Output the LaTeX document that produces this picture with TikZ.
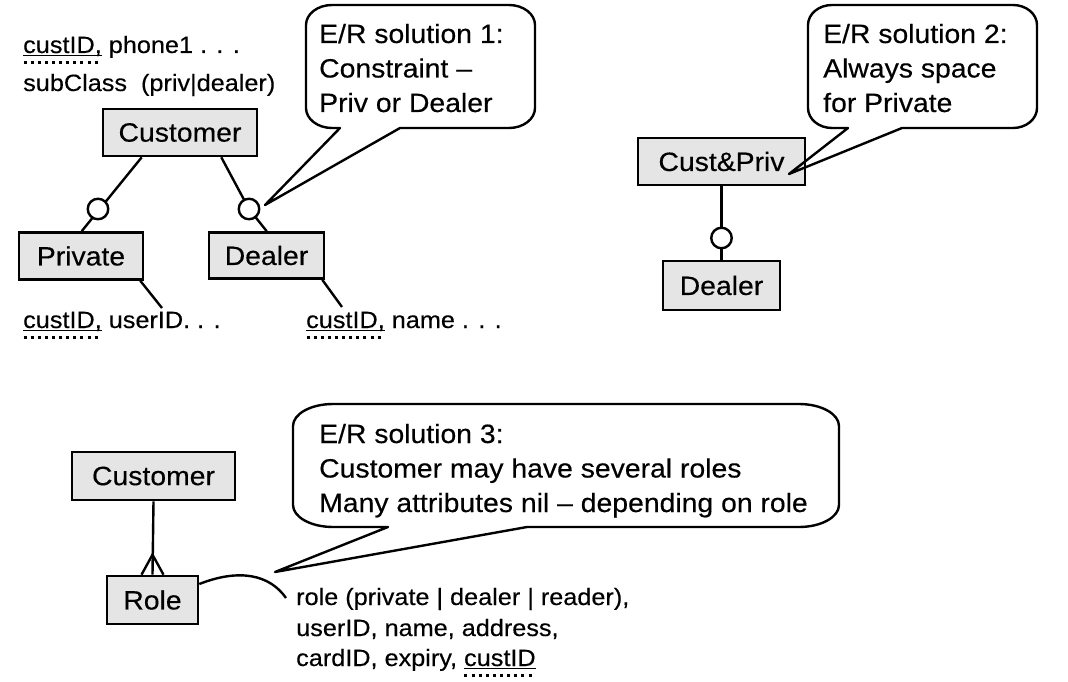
\documentclass[tikz,border=0pt]{standalone}
\usepackage{fontspec}
\newfontfamily\hv{Liberation Sans}[FakeStretch=1.07,FakeBold=0.3]
\newcommand\bigtxt{\hv\fontsize{26.5}{34}\selectfont}
\newcommand\smtxt{\hv\fontsize{23.6}{31}\selectfont}
\definecolor{boxgray}{gray}{0.9}
\newcommand\keyul[1]{\setbox0=\hbox{#1}%
 \rlap{\raisebox{-3pt}{\rule{\wd0}{0.9pt}}}%
 \rlap{\raisebox{-10.8pt}{\hbox to \wd0{\xleaders\hbox{\rule{3pt}{2.8pt}\hspace{3.8pt}}\hfill}}}%
 \box0\relax}
\newcommand\bubble[9]{%
 \draw[bubbleline] ({#1+#5},#2) -- ({#3-#5},#2)
   arc[start angle=-90,end angle=0,x radius=#5,y radius=#6]
   -- (#3,{#4-#6}) arc[start angle=0,end angle=90,x radius=#5,y radius=#6]
   -- (#8,#4) -- (#9) -- (#7,#4) -- ({#1+#5},#4)
   arc[start angle=90,end angle=180,x radius=#5,y radius=#6]
   -- (#1,{#2+#6}) arc[start angle=180,end angle=270,x radius=#5,y radius=#6] -- cycle;}
\tikzset{
  ent/.style={draw, line width=2.6pt, fill=boxgray, inner sep=0pt, font=\bigtxt},
  conn/.style={line width=2.4pt},
  circ/.style={circle, draw, fill=white, line width=2.4pt, minimum size=20.5pt, inner sep=0pt},
  bubbleline/.style={line width=2.4pt, line join=round},
  bgt/.style={anchor=base west, inner sep=0pt, font=\bigtxt},
  smt/.style={anchor=base west, inner sep=0pt, font=\smtxt},
}
\begin{document}
\begin{tikzpicture}[x=1pt,y=-1pt]
\fill[white] (0,0) rectangle (1068,682);
\useasboundingbox (0,0) rectangle (1068,682);

% ---------- solution 1 ----------
\node[ent, minimum width=154pt, minimum height=47pt] (cust1) at (180,132.5) {Customer};
\node[ent, minimum width=124pt, minimum height=47pt] (priv1) at (81,256) {Private};
\node[ent, minimum width=115pt, minimum height=46pt] (deal1) at (266.5,255.5) {Dealer};

\node[smt] (t1) at (23,53) {\keyul{custID,} phone1 . . .};
\node[smt] (t2) at (23,91) {subClass\hspace{14pt}(priv|dealer)};
\node[smt] (t3) at (23,328) {\keyul{custID,} userID. . .};
\node[smt] (t4) at (306,328) {\keyul{custID,} name . . .};

\coordinate (c1) at (98,209);
\coordinate (c2) at (249,209);
\draw[conn] ([xshift=40pt]cust1.south west) -- ([xshift=64pt]priv1.north west);
\draw[conn] ([xshift=-37pt]cust1.south east) -- (c2) -- ([xshift=59pt]deal1.north west);
\node[circ] (circ1) at (c1) {};
\node[circ] (circ2) at (c2) {};

\coordinate (p1) at (162,308);
\coordinate (p2) at (342,307);
\draw[conn] ([xshift=-4pt]priv1.south east) -- (p1);
\draw[conn] ([xshift=-3pt]deal1.south east) -- (p2);

\coordinate (tip1) at (265,205);
\bubble{306}{5}{535}{128}{26}{20}{340}{400}{tip1}
\node[bgt] (b1a) at (319,43) {E/R solution 1:};
\node[bgt] (b1b) at (319,77.5) {Constraint –};
\node[bgt] (b1c) at (319,112) {Priv or Dealer};

% ---------- solution 2 ----------
\node[ent, minimum width=167pt, minimum height=47pt] (custpriv) at (721.5,161.5) {Cust\&Priv};
\node[ent, minimum width=117pt, minimum height=49pt] (deal2) at (721.5,285.5) {Dealer};
\draw[conn] (custpriv.south) -- (deal2.north);
\node[circ] (circ3) at (721.5,238) {};

\coordinate (tip2) at (789,174);
\bubble{808}{5}{1037}{128}{24}{20}{848}{902}{tip2}
\node[bgt] (b2a) at (823,43) {E/R solution 2:};
\node[bgt] (b2b) at (823,77.5) {Always space};
\node[bgt] (b2c) at (823,112) {for Private};

% ---------- solution 3 ----------
\node[ent, minimum width=163pt, minimum height=48pt] (cust3) at (153.5,476) {Customer};
\node[ent, minimum width=91pt, minimum height=48pt] (role3) at (152.5,600) {Role};
\draw[conn] (cust3.south) -- (role3.north);
\draw[conn] ([xshift=-11pt]role3.north) -- ([yshift=20pt]role3.north) -- ([xshift=11pt]role3.north);

\coordinate (a3) at (286,598);
\draw[conn] ([yshift=16pt]role3.east) .. controls (240,568) and (270,575) .. (a3);

\node[smt] (r1) at (296,605) {role (private | dealer | reader),};
\node[smt] (r2) at (296,636) {userID, name, address,};
\node[smt] (r3) at (296,666) {cardID, expiry, \keyul{custID}};

\coordinate (tip3) at (275,572);
\bubble{293}{404}{839}{527}{40}{22}{388}{527}{tip3}
\node[bgt] (b3a) at (319,443) {E/R solution 3:};
\node[bgt] (b3b) at (319,477.5) {Customer may have several roles};
\node[bgt] (b3c) at (319,512) {Many attributes nil – depending on role};
\end{tikzpicture}
\end{document}
